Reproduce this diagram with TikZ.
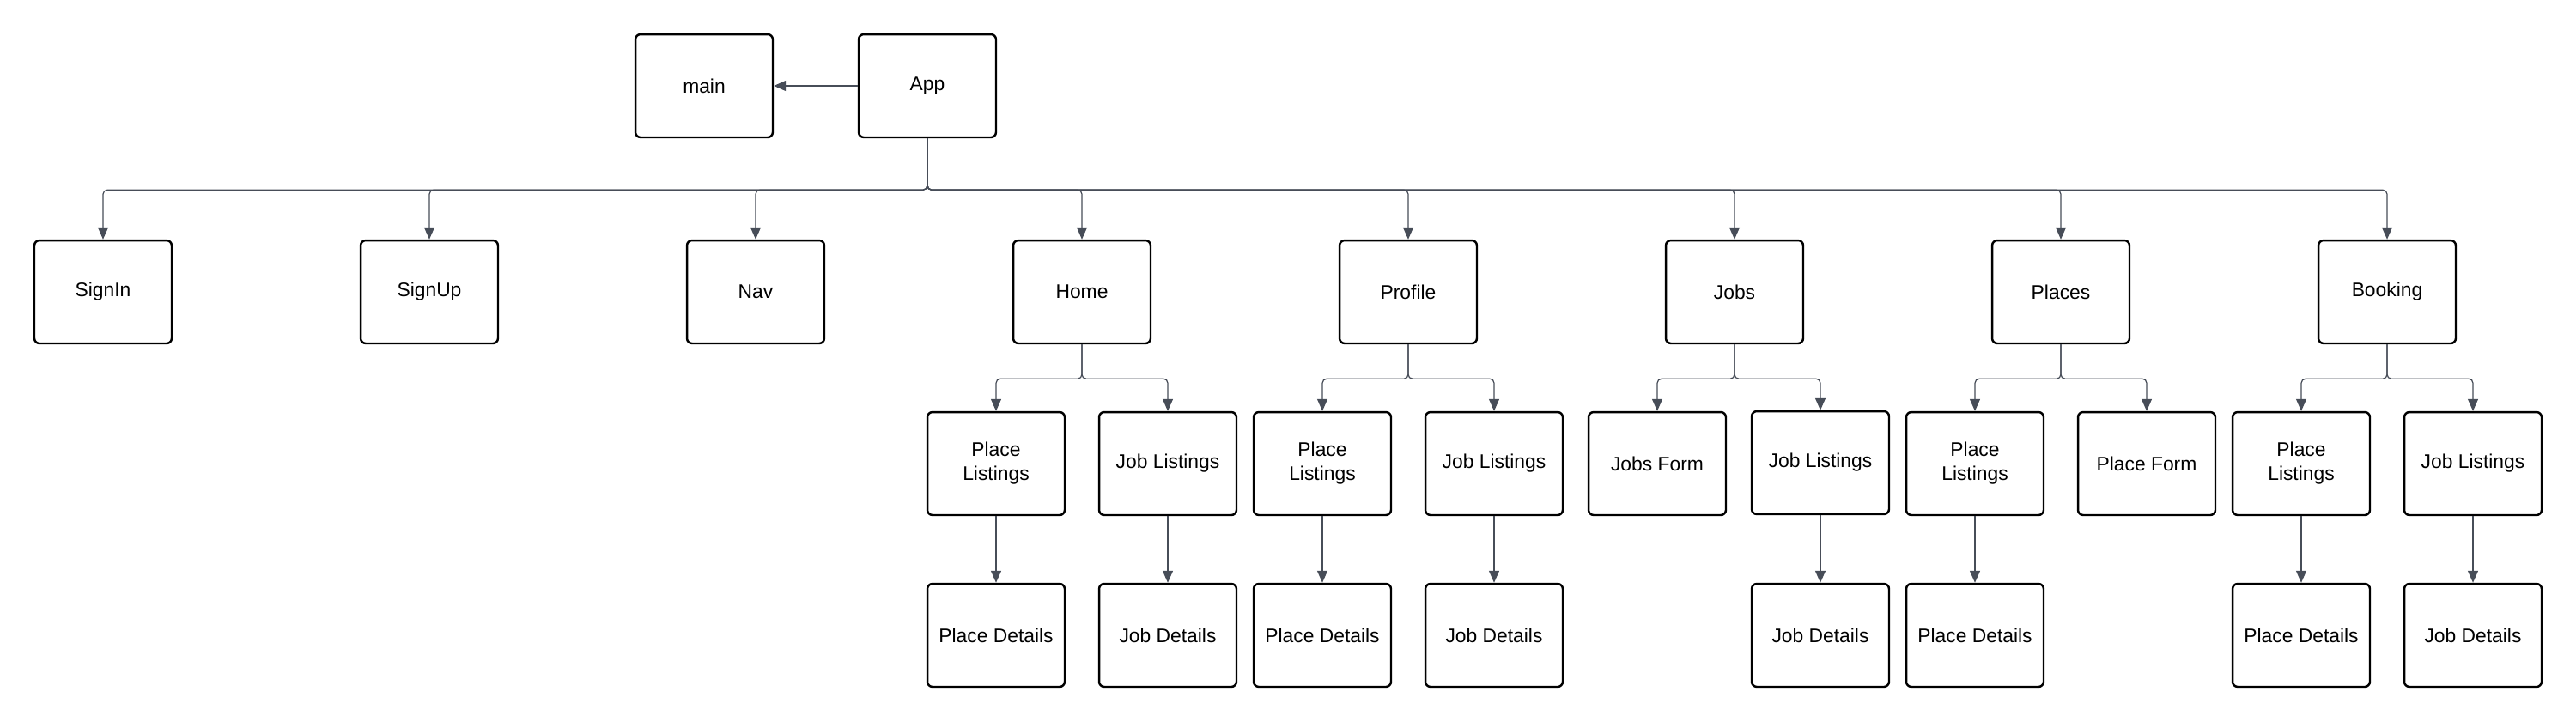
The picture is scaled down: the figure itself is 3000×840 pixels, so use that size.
\documentclass[tikz,border=0pt]{standalone}
\usepackage{fontspec}
\setmainfont{Liberation Sans}
\usetikzlibrary{arrows.meta}
\definecolor{linkgray}{HTML}{474D58}

\begin{document}
\begin{tikzpicture}[x=0.02cm,y=-0.02cm,
		comp/.style={draw=black,line width=1.4pt,rounded corners=0.12cm,minimum width=3.2cm,minimum height=2.4cm,inner sep=0pt,align=center,font=\fontsize{13}{16}\selectfont},
		link/.style={draw=linkgray,line width=0.7pt,rounded corners=0.1cm,-{Triangle[length=0.28cm,width=0.24cm]}}]
		%%%%% START %%%%%
		\fill[white] (0, 0) rectangle (3000, 840);
		\useasboundingbox (0, 0) rectangle (3000, 840);
		
		\node[comp] (main) at (820, 100) {main};
		\node[comp] (app) at (1080, 100) {App};
		
		\node[comp] (signin) at (120, 340) {SignIn};
		\node[comp] (signup) at (500, 340) {SignUp};
		\node[comp] (nav) at (880, 340) {Nav};
		\node[comp] (home) at (1260, 340) {Home};
		\node[comp] (profile) at (1640, 340) {Profile};
		\node[comp] (jobs) at (2020, 340) {Jobs};
		\node[comp] (places) at (2400, 340) {Places};
		\node[comp] (booking) at (2780, 340) {Booking};
		
		\node[comp] (homePL) at (1160, 540) {Place\\Listings};
		\node[comp] (homeJL) at (1360, 540) {Job Listings};
		\node[comp] (profPL) at (1540, 540) {Place\\Listings};
		\node[comp] (profJL) at (1740, 540) {Job Listings};
		\node[comp] (jobsJF) at (1930, 540) {Jobs Form};
		\node[comp] (jobsJL) at (2120, 539) {Job Listings};
		\node[comp] (placPL) at (2300, 540) {Place\\Listings};
		\node[comp] (placPF) at (2500, 540) {Place Form};
		\node[comp] (bookPL) at (2680, 540) {Place\\Listings};
		\node[comp] (bookJL) at (2880, 540) {Job Listings};
		
		\node[comp] (homePD) at (1160, 740) {Place Details};
		\node[comp] (homeJD) at (1360, 740) {Job Details};
		\node[comp] (profPD) at (1540, 740) {Place Details};
		\node[comp] (profJD) at (1740, 740) {Job Details};
		\node[comp] (jobsJD) at (2120, 740) {Job Details};
		\node[comp] (placPD) at (2300, 740) {Place Details};
		\node[comp] (bookPD) at (2680, 740) {Place Details};
		\node[comp] (bookJD) at (2880, 740) {Job Details};
		
		\draw[link] (app) -- (main);
		
		\foreach \c in {signin,signup,nav,home,profile,jobs,places,booking}
			\draw[link] (app.south) -- ++(0, 60) -| (\c.north);
		
		\foreach \p/\a/\b in {home/homePL/homeJL,profile/profPL/profJL,jobs/jobsJF/jobsJL,places/placPL/placPF,booking/bookPL/bookJL}{
			\draw[link] (\p.south) -- ++(0, 40) -| (\a.north);
			\draw[link] (\p.south) -- ++(0, 40) -| (\b.north);
		}
		
		\foreach \a/\b in {homePL/homePD,homeJL/homeJD,profPL/profPD,profJL/profJD,jobsJL/jobsJD,placPL/placPD,bookPL/bookPD,bookJL/bookJD}
			\draw[link] (\a) -- (\b);
		%%%%% END %%%%%
	\end{tikzpicture}
\end{document}
